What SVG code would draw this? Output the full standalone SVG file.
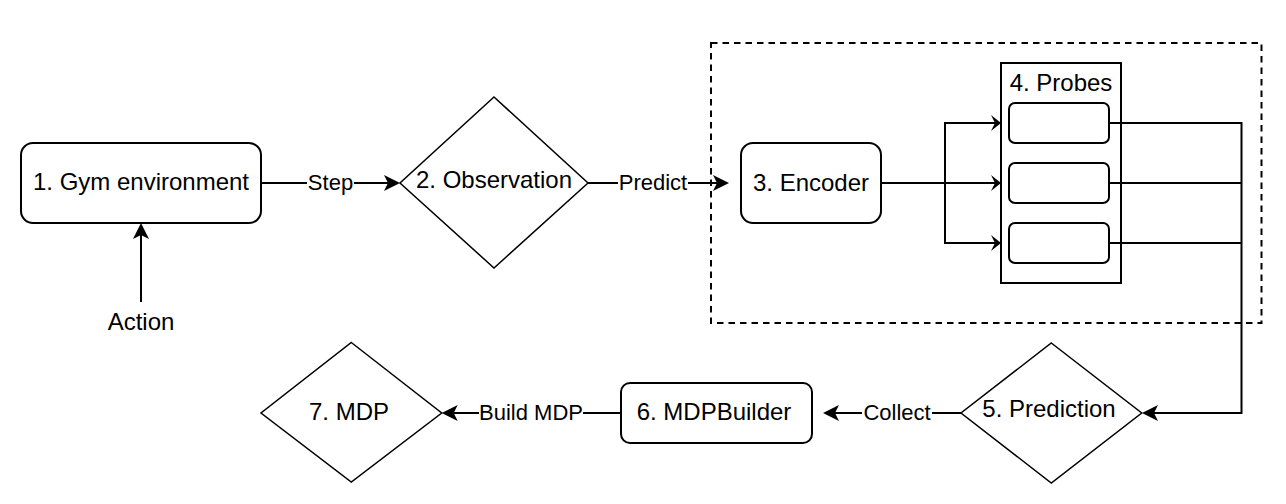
<svg xmlns="http://www.w3.org/2000/svg" width="1286" height="504" viewBox="0 0 1286 504">
  <style>
    .box { fill: #ffffff; stroke: #000000; stroke-width: 2; }
    .dia { fill: #ffffff; stroke: #000000; stroke-width: 1.5; }
    .grp { fill: none; stroke: #000000; stroke-width: 2; stroke-dasharray: 6.5 5; }
    .edge { fill: none; stroke: #000000; stroke-width: 2; }
    .node { font-family: "Liberation Sans", Helvetica, Arial, sans-serif; font-size: 24px; fill: #000000; text-anchor: middle; }
    .lbl { font-family: "Liberation Sans", Helvetica, Arial, sans-serif; font-size: 22px; fill: #000000; text-anchor: middle; }
    .lblbg { fill: #ffffff; stroke: none; }
  </style>
  <defs>
    <marker id="arr" viewBox="-5 -9 18 18" refX="0" refY="0" markerWidth="18" markerHeight="18" orient="auto" markerUnits="userSpaceOnUse">
      <path d="M12,0 L-4,-8 L0,0 L-4,8 Z" fill="#000000"/>
    </marker>
    <marker id="arrs" viewBox="-5 -9 13 18" refX="0" refY="0" markerWidth="13" markerHeight="18" orient="auto" markerUnits="userSpaceOnUse">
      <path d="M6,0 L-4,-8 L0,0 L-4,8 Z" fill="#000000"/>
    </marker>
  </defs>

  <rect id="pipeline-group" class="grp" x="711" y="43" width="550.5" height="280"/>

  <g id="connectors">
    <path class="edge" d="M141,302 L141,235" marker-end="url(#arr)"/>
    <path class="edge" d="M261,183 L388,183" marker-end="url(#arr)"/>
    <path class="edge" d="M588,183 L717,183" marker-end="url(#arr)"/>
    <path class="edge" d="M881,183 L995,183" marker-end="url(#arrs)"/>
    <path class="edge" d="M945,183 L945,123 L995,123" marker-end="url(#arrs)"/>
    <path class="edge" d="M945,183 L945,243 L995,243" marker-end="url(#arrs)"/>
    <path class="edge" d="M1109,123 L1241.5,123 L1241.5,413 L1154,413" marker-end="url(#arr)"/>
    <path class="edge" d="M1109,183 L1241.5,183"/>
    <path class="edge" d="M1109,243 L1241.5,243"/>
    <path class="edge" d="M961,413 L835,413" marker-end="url(#arr)"/>
    <path class="edge" d="M621,413 L453.7,413" marker-end="url(#arr)"/>
    <g id="edge-labels">
      <rect class="lblbg" x="307" y="172" width="47" height="22"/>
      <text class="lbl" x="330.5" y="190.4">Step</text>
      <rect class="lblbg" x="618" y="172" width="70" height="22"/>
      <text class="lbl" x="653" y="190.4">Predict</text>
      <rect class="lblbg" x="862" y="402" width="70" height="22"/>
      <text class="lbl" x="897" y="420.4">Collect</text>
      <rect class="lblbg" x="479" y="402" width="104" height="22"/>
      <text class="lbl" x="531" y="420.4">Build MDP</text>
    </g>
  </g>

  <g id="node-1-gym">
    <rect class="box" x="21" y="143" width="240" height="80" rx="12" ry="12"/>
    <text class="node" x="141" y="190">1. Gym environment</text>
  </g>

  <g id="node-action">
    <text class="node" x="141" y="330">Action</text>
  </g>

  <g id="node-2-observation">
    <polygon class="dia" points="494,97 588,183 494,268 400,183"/>
    <text class="node" x="494" y="188.3">2. Observation</text>
  </g>

  <g id="node-3-encoder">
    <rect class="box" x="741" y="143" width="140" height="80" rx="12" ry="12"/>
    <text class="node" x="811" y="191">3. Encoder</text>
  </g>

  <g id="node-4-probes">
    <rect class="box" x="1001" y="63" width="120" height="220" fill="none" style="fill:none"/>
    <text class="node" x="1061" y="91">4. Probes</text>
    <rect class="box" x="1009" y="103" width="100" height="40" rx="6" ry="6"/>
    <rect class="box" x="1009" y="163" width="100" height="40" rx="6" ry="6"/>
    <rect class="box" x="1009" y="223" width="100" height="40" rx="6" ry="6"/>
  </g>

  <g id="node-5-prediction">
    <polygon class="dia" points="1051.3,343 1141.7,413 1051.3,483 961,413"/>
    <text class="node" x="1049" y="417.3">5. Prediction</text>
  </g>

  <g id="node-6-mdpbuilder">
    <rect class="box" x="621" y="383" width="191" height="60" rx="9" ry="9"/>
    <text class="node" x="714" y="420">6. MDPBuilder</text>
  </g>

  <g id="node-7-mdp">
    <polygon class="dia" points="351.3,342.5 441.7,413 351.3,482 261,413"/>
    <text class="node" x="349" y="420">7. MDP</text>
  </g>
</svg>
